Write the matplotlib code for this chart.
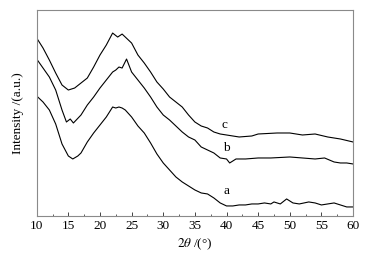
import matplotlib.pyplot as plt

# curve a (bottom)
xa = [10, 11, 12, 13, 14, 15, 15.7, 16.5, 17, 18, 19, 20, 21, 22, 22.5, 23, 23.5, 24, 25, 26, 27,
      28, 29, 30, 31, 32, 33, 34, 35, 36, 37, 38, 39, 40, 41, 42, 43, 44, 45, 46, 47, 47.5, 48.5,
      49.5, 50.5, 51.5, 53, 54, 55, 56, 57, 58, 59, 60]
ya = [120, 114, 106, 92, 72, 60, 57, 60, 63, 74, 83, 91, 99, 109, 108, 109, 108, 106, 99, 90, 83,
      73, 62, 53, 46, 39, 34, 30, 26, 23, 22, 18, 13, 10, 10, 11, 11, 12, 12, 13, 12, 14, 12,
      17, 13, 12, 14, 13, 11, 12, 13, 11, 9, 9]

# curve b (middle)
xb = [10, 11, 12, 13, 14, 14.7, 15.3, 15.8, 17, 18, 19, 20, 21, 22, 22.5, 23, 23.5, 24.2, 25, 26,
      27, 28, 29, 30, 31, 32, 33, 34, 35, 36, 37, 38, 39, 40, 40.5, 41.5, 43, 45, 47, 50, 52,
      54, 55.5, 57, 58, 59, 60]
yb = [157, 148, 139, 126, 106, 94, 97, 93, 101, 111, 119, 128, 136, 144, 146, 149, 148, 157, 144, 136,
      128, 119, 109, 101, 96, 90, 84, 79, 76, 69, 66, 63, 58, 57, 53, 57, 57, 58, 58, 59, 58,
      57, 58, 54, 53, 53, 52]

# curve c (top)
xc = [10, 11, 12, 13, 14, 15, 16, 17, 18, 19, 20, 21, 22, 22.8, 23.5, 24, 25, 26, 27, 28, 29, 30,
      31, 32, 33, 34, 35, 36, 37, 38, 39, 40, 42, 44, 45, 48, 50, 52, 54, 56, 58, 60]
yc = [178, 168, 156, 143, 131, 126, 128, 133, 138, 149, 161, 171, 183, 179, 182, 179, 173, 161, 153,
      144, 134, 127, 119, 114, 109, 101, 94, 90, 88, 84, 82, 81, 79, 80, 82, 83, 83, 81, 82, 79,
      77, 74]

labels = ["a", "b", "c"]
label_x = [40, 40, 39.7]
label_y = [19, 62, 85]

plt.rcParams['font.family'] = ['Liberation Serif', 'DejaVu Serif']
plt.rcParams['mathtext.fontset'] = 'stix'

fig = plt.figure(figsize=(3.67, 2.58), dpi=100)
ax = fig.add_axes([0.1, 0.163, 0.862, 0.798])

for x, y in [(xa, ya), (xb, yb), (xc, yc)]:
    ax.plot(x, y, color="black", lw=0.8)
for t, lx, ly in zip(labels, label_x, label_y):
    ax.text(lx, ly, t, fontsize=9.5, ha="center", va="bottom")

ax.set_xlim(10, 60)
ax.set_ylim(0, 206)
ax.set_xticks(range(10, 61, 5))
ax.set_xticks([12.5 + 5 * i for i in range(10)], minor=True)
ax.set_yticks([])
ax.tick_params(axis="x", direction="in", length=3, width=0.7, labelsize=9.5, pad=3, color="#444444")
ax.tick_params(axis="x", which="minor", direction="in", length=1.8, width=0.6, color="#444444")
for s in ax.spines.values():
    s.set_color("#8a8a8a")
    s.set_linewidth(0.8)
ax.set_xlabel(r"$2\theta$ /(°)", fontsize=9.5, labelpad=3)
ax.set_ylabel("Intensity /(a.u.)", fontsize=9.5, labelpad=9)

fig.savefig("out.png", dpi=100)
